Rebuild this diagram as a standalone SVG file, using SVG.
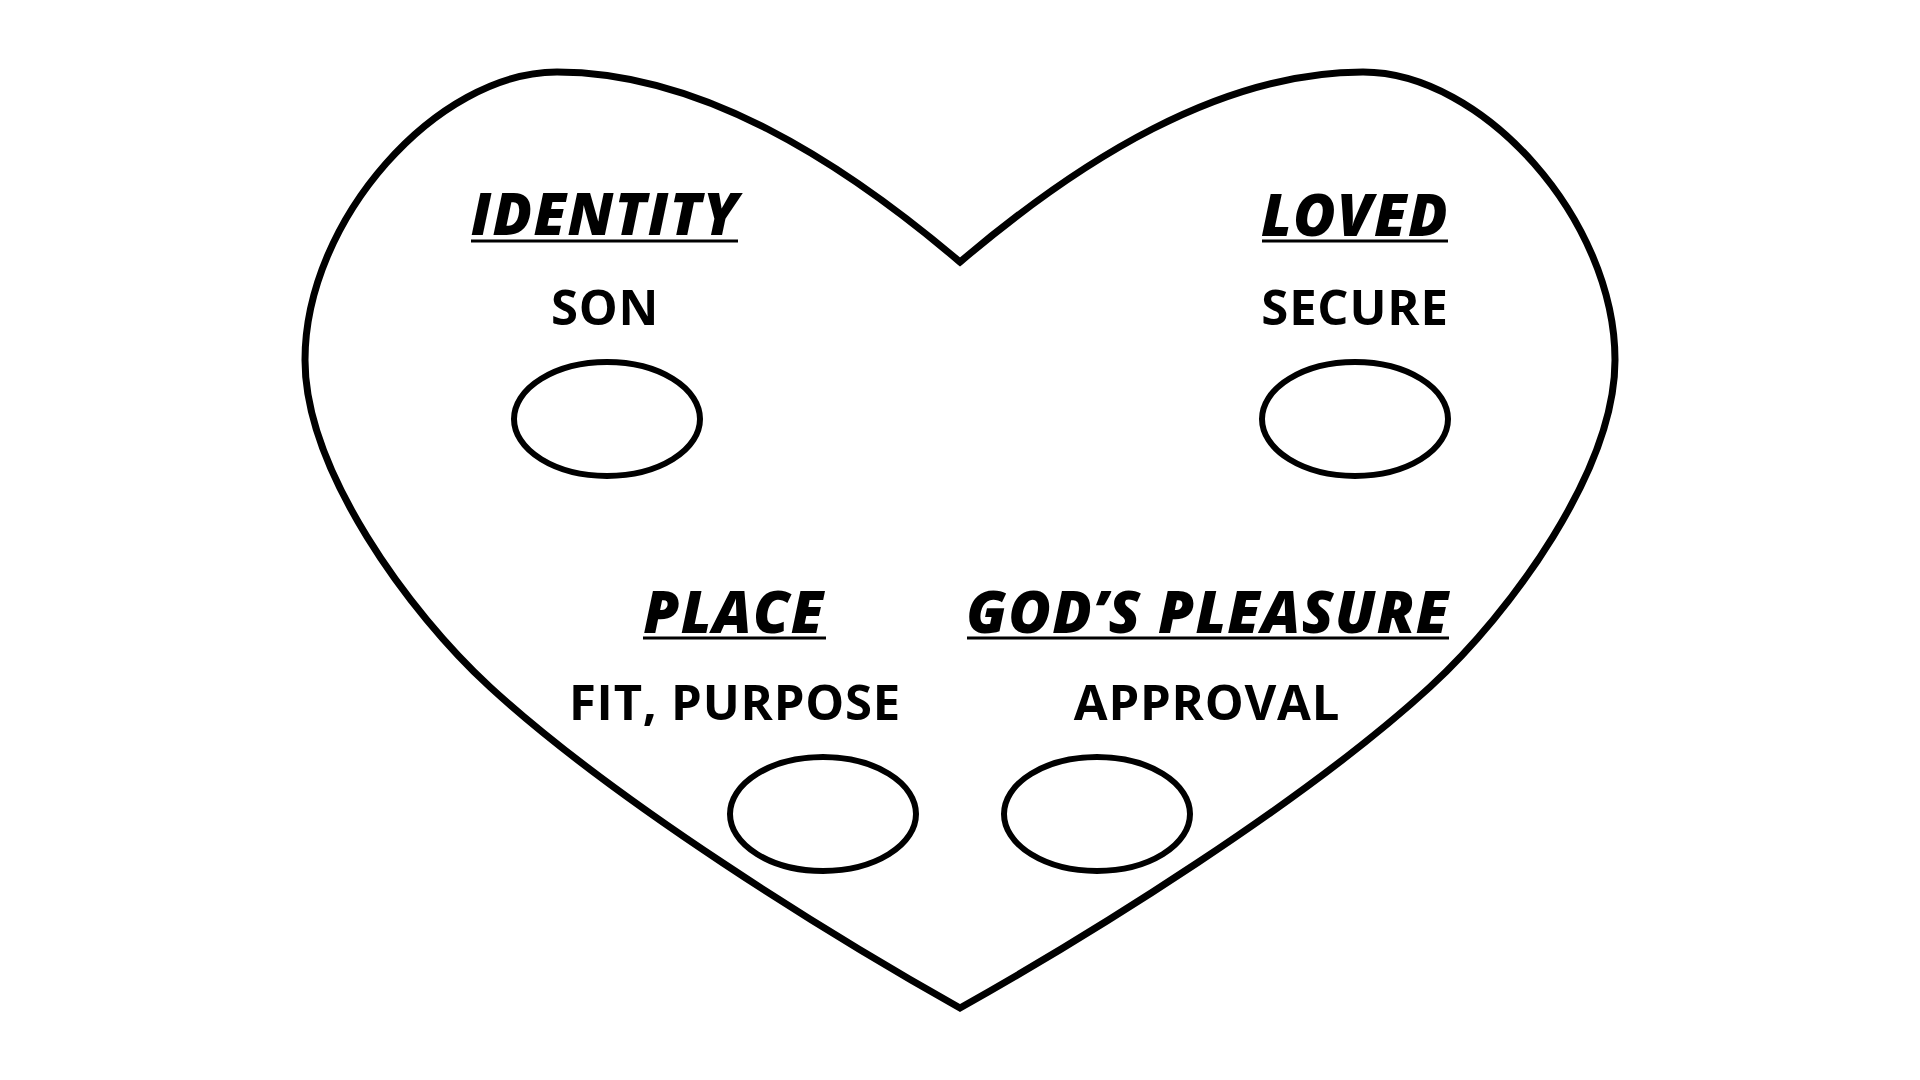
<svg xmlns="http://www.w3.org/2000/svg" width="1920" height="1080" viewBox="0 0 1920 1080">
<style>
.h{font-family:"Open Sans","DejaVu Sans",sans-serif;font-weight:800;font-style:italic;font-size:58px;letter-spacing:1.3px;fill:#000;text-anchor:middle}
.s{font-family:"Open Sans","DejaVu Sans",sans-serif;font-weight:700;font-size:49px;fill:#000;text-anchor:middle;letter-spacing:0.8px}
.u{stroke:#000;stroke-width:3}
.e{fill:none;stroke:#000;stroke-width:6}
.heart{fill:none;stroke:#000;stroke-width:7;stroke-linejoin:miter;stroke-miterlimit:10}
</style>
<rect width="1920" height="1080" fill="#fff"/>
<g id="heart">
<path class="heart" d="M960,262 C840,160 700,72 557,72 C437,72 305,220 305,360 C305,470 408.9,612.6 490,687 C615.3,801.9 829.2,934.5 960,1008 C1090.8,934.5 1304.7,801.9 1430,687 C1511.1,612.6 1615,470 1615,360 C1615,220 1483,72 1363,72 C1220,72 1080,160 960,262 Z"/>
</g>
<g id="identity">
<text class="h" x="605" y="235">IDENTITY</text>
<line class="u" x1="471" y1="241" x2="738" y2="241"/>
<text class="s" x="605" y="325">SON</text>
<ellipse class="e" cx="607" cy="419" rx="93" ry="57"/>
</g>
<g id="loved">
<text class="h" x="1355" y="236">LOVED</text>
<line class="u" x1="1262" y1="241" x2="1448" y2="241"/>
<text class="s" x="1355" y="325">SECURE</text>
<ellipse class="e" cx="1355" cy="419" rx="93" ry="57"/>
</g>
<g id="place">
<text class="h" x="734" y="633">PLACE</text>
<line class="u" x1="643" y1="638" x2="826" y2="638"/>
<text class="s" x="735" y="720">FIT, PURPOSE</text>
<ellipse class="e" cx="823" cy="814" rx="93" ry="57"/>
</g>
<g id="gods-pleasure">
<text class="h" x="1208" y="633">GOD’S PLEASURE</text>
<line class="u" x1="967" y1="638" x2="1449" y2="638"/>
<text class="s" x="1207" y="720">APPROVAL</text>
<ellipse class="e" cx="1097" cy="814" rx="93" ry="57"/>
</g>
<g id="connectors"/>
</svg>
